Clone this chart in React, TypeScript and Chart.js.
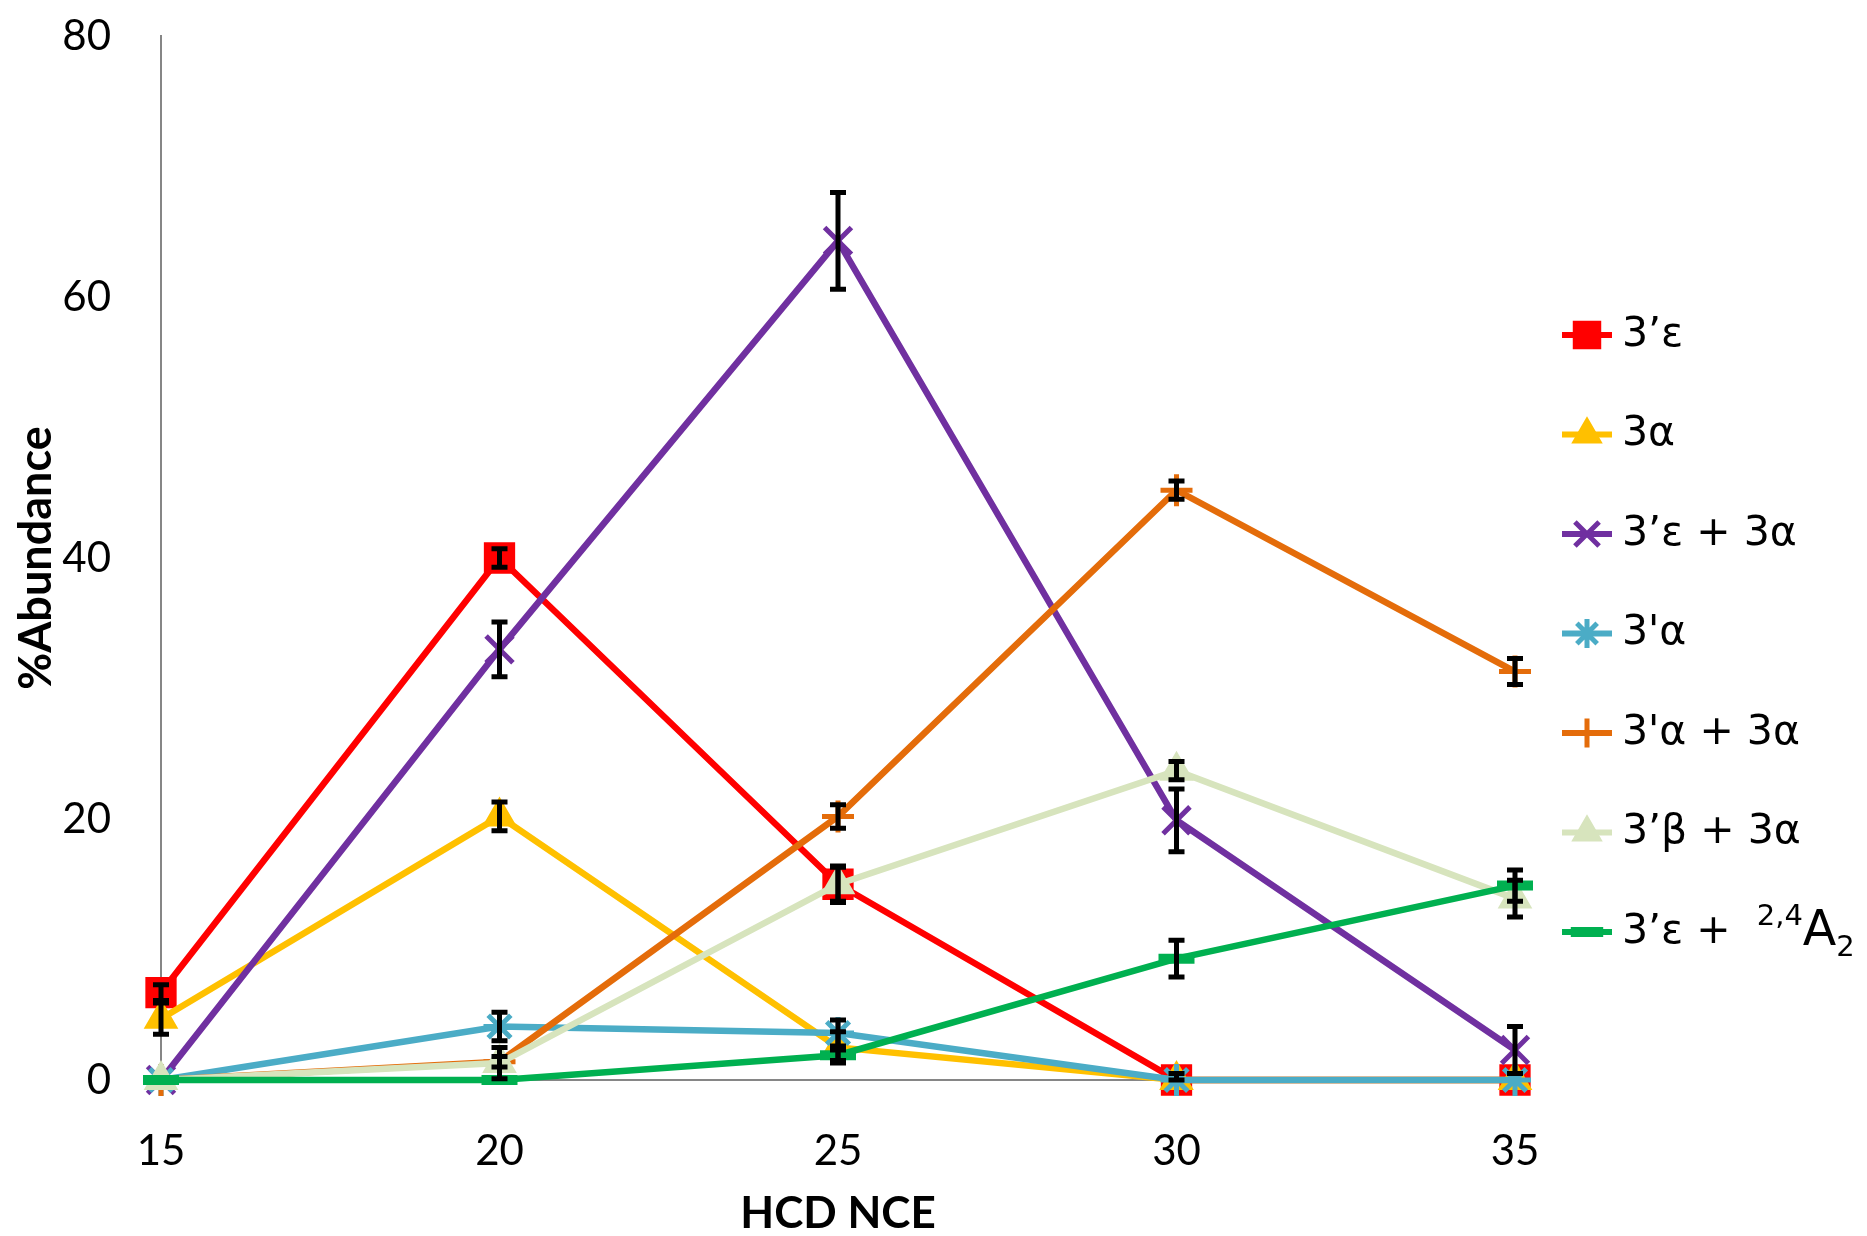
import React, { useEffect, useRef } from "react";
import { Chart, registerables } from "chart.js";
import { drawPoint } from "chart.js/helpers";

Chart.register(...registerables);

// ---- data ----
const nce = [15, 20, 25, 30, 35];
const yTicks = [0, 20, 40, 60, 80];

const names = ["3’ε", "3α", "3’ε + 3α", "3'α", "3'α + 3α", "3’β + 3α", "3’ε +  2,4A2"];

const v3e = [6.7, 40.0, 15.0, 0, 0];
const e3e = [0.6, 0.7, 1.4, 0.5, 0];
const v3a = [4.7, 20.2, 2.5, 0, 0];
const e3a = [1.2, 1.1, 1.2, 0, 0];
const v3e3a = [0, 33.0, 64.3, 19.9, 2.3];
const e3e3a = [0, 2.1, 3.7, 2.4, 1.8];
const v3pa = [0, 4.1, 3.6, 0, 0];
const e3pa = [0, 1.1, 1.0, 0, 0];
const v3pa3a = [0, 1.4, 20.2, 45.2, 31.3];
const e3pa3a = [0, 0.4, 0.9, 0.7, 1.0];
const v3b3a = [0, 1.3, 15.0, 23.7, 13.9];
const e3b3a = [0, 1.2, 1.3, 0.7, 1.4];
const v3eA2 = [0, 0, 1.9, 9.3, 14.9];
const e3eA2 = [0, 0, 0.4, 1.4, 1.2];

// legend rich text segments (superscript/subscript)
const legendSegments: { t: string; sup?: boolean; sub?: boolean; big?: boolean }[][] = [
  [{ t: "3’ε" }],
  [{ t: "3α" }],
  [{ t: "3’ε + 3α" }],
  [{ t: "3'α" }],
  [{ t: "3'α + 3α" }],
  [{ t: "3’β + 3α" }],
  [{ t: "3’ε +  " }, { t: "2,4", sup: true }, { t: "A", big: true }, { t: "2", sub: true }],
];

const values = [v3e, v3a, v3e3a, v3pa, v3pa3a, v3b3a, v3eA2];
const errors = [e3e, e3a, e3e3a, e3pa, e3pa3a, e3b3a, e3eA2];

const colors = ["#FF0000", "#FFC000", "#7030A0", "#4BACC6", "#E46C0A", "#D7E4BD", "#00B050"];
const styles: any[] = ["rect", "triangle", "crossRot", "star", "cross", "triangle", "line"];
const radii = [20, 18, 19, 16, 16, 18, 18];
const pointBorders = [3, 2, 5, 5, 5, 2, 10];

const errorBarPlugin = {
  id: "errorBars",
  afterDatasetsDraw(chart: any) {
    const ctx = chart.ctx;
    const ys = chart.scales.y;
    ctx.save();
    ctx.strokeStyle = "#000";
    ctx.lineWidth = 5;
    ctx.lineCap = "butt";
    chart.data.datasets.forEach((ds: any, i: number) => {
      const meta = chart.getDatasetMeta(i);
      const errs = errors[i];
      meta.data.forEach((pt: any, j: number) => {
        const e = errs[j];
        if (!e) return;
        const v = values[i][j];
        const x = pt.x;
        const yTop = ys.getPixelForValue(v + e);
        const yBot = ys.getPixelForValue(Math.max(0, v - e));
        ctx.beginPath();
        ctx.moveTo(x, yTop);
        ctx.lineTo(x, yBot);
        ctx.moveTo(x - 8, yTop);
        ctx.lineTo(x + 8, yTop);
        ctx.moveTo(x - 8, yBot);
        ctx.lineTo(x + 8, yBot);
        ctx.stroke();
      });
    });
    ctx.restore();
  },
};

const legendPlugin = {
  id: "richLegend",
  afterDraw(chart: any) {
    const ctx = chart.ctx;
    const area = chart.chartArea;
    const x0 = area.right + 47;
    const x1 = x0 + 50;
    const tx = x1 + 10;
    const yStart = 335;
    const step = 99.5;
    ctx.save();
    chart.data.datasets.forEach((ds: any, i: number) => {
      const y = yStart + i * step;
      ctx.strokeStyle = colors[i];
      ctx.lineWidth = 6;
      ctx.beginPath();
      ctx.moveTo(x0, y);
      ctx.lineTo(x1, y);
      ctx.stroke();
      ctx.fillStyle = colors[i];
      ctx.strokeStyle = colors[i];
      ctx.lineWidth = pointBorders[i];
      drawPoint(ctx, { pointStyle: styles[i], radius: radii[i] * 0.9, rotation: 0, borderWidth: pointBorders[i] } as any, (x0 + x1) / 2, y);
      // text
      let cx = tx;
      ctx.fillStyle = "#000";
      ctx.textBaseline = "middle";
      ctx.textAlign = "left";
      legendSegments[i].forEach((seg) => {
        let size = 41;
        let dy = 0;
        if (seg.sup) { size = 29; dy = -15; }
        if (seg.sub) { size = 29; dy = 16; }
        if (seg.big) { size = 49; dy = 0; }
        ctx.font = `${size}px "DejaVu Sans"`;
        ctx.fillText(seg.t, cx, y + dy);
        cx += ctx.measureText(seg.t).width;
      });
    });
    ctx.restore();
  },
};

export default function App() {
  const ref = useRef<HTMLCanvasElement | null>(null);
  useEffect(() => {
    document.body.style.margin = "0";
    if (!ref.current) return;
    const datasets = names.map((name, i) => ({
      label: name,
      data: nce.map((x, j) => ({ x, y: values[i][j] })),
      borderColor: colors[i],
      backgroundColor: colors[i],
      borderWidth: 6.5,
      pointStyle: styles[i],
      pointRadius: radii[i],
      pointHoverRadius: radii[i],
      pointBorderWidth: pointBorders[i],
      pointBackgroundColor: colors[i],
      pointBorderColor: colors[i],
      tension: 0,
      clip: false as any,
      order: names.length - i,
    }));
    const chart = new Chart(ref.current, {
      type: "line",
      data: { datasets },
      options: {
        responsive: false,
        animation: false,
        devicePixelRatio: 1,
        layout: { padding: { left: 0, right: 352, top: 36, bottom: 0 } },
        plugins: { legend: { display: false }, tooltip: { enabled: false } },
        scales: {
          x: {
            type: "linear",
            min: nce[0],
            max: nce[nce.length - 1],
            afterBuildTicks: (s: any) => { s.ticks = nce.map((v) => ({ value: v })); },
            ticks: { font: { family: "Lato", size: 42 }, color: "#000", padding: 46 },
            grid: { display: false, drawTicks: false },
            border: { display: true, color: "#868686", width: 2 },
            title: { display: true, text: "HCD NCE", color: "#000", font: { family: "Lato", size: 44, weight: "bold", lineHeight: 1 }, padding: { top: 0, bottom: 0 } },
            afterFit: (s: any) => { s.height = 156; s.paddingLeft = 0; s.paddingRight = 0; },
          },
          y: {
            min: yTicks[0],
            max: yTicks[yTicks.length - 1],
            afterBuildTicks: (s: any) => { s.ticks = yTicks.map((v) => ({ value: v })); },
            ticks: { font: { family: "Lato", size: 42 }, color: "#000", padding: 50 },
            grid: { display: false, drawTicks: false },
            border: { display: true, color: "#868686", width: 2 },
            title: { display: true, text: "%Abundance", color: "#000", font: { family: "Lato", size: 45, weight: "bold", lineHeight: 1 }, padding: { top: 14, bottom: 0 } },
            afterFit: (s: any) => { s.width = 161; s.paddingTop = 0; s.paddingBottom = 0; },
          },
        },
      },
      plugins: [errorBarPlugin, legendPlugin],
    } as any);
    return () => chart.destroy();
  }, []);
  return <canvas ref={ref} width={1867} height={1236} style={{ display: "block", width: 1867, height: 1236 }} />;
}
